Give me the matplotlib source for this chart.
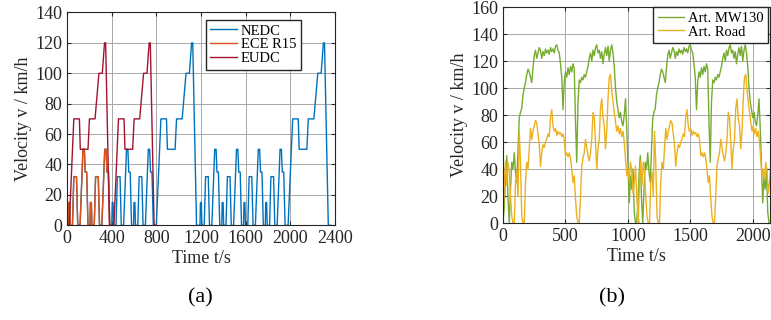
import numpy as np
import matplotlib
matplotlib.use('Agg')
from matplotlib import pyplot as plt

plt.rcParams['font.family'] = ['Liberation Serif', 'DejaVu Serif']

# ECE R15 urban cycle (195 s) breakpoints
ece_t = [0, 11, 15, 23, 28, 49, 61, 85, 96, 117, 143, 155, 163, 176, 188, 195]
ece_v = [0, 0, 15, 15, 0, 0, 32, 32, 0, 0, 50, 50, 35, 35, 0, 0]
# EUDC extra-urban cycle (400 s) breakpoints
eudc_t = [0, 20, 61, 111, 119, 188, 201, 251, 286, 316, 336, 346, 380, 400]
eudc_v = [0, 0, 70, 70, 50, 50, 70, 70, 100, 100, 120, 120, 0, 0]
ece_len = 195
eudc_len = 400

# Artemis cycles, read every 10 s
mw130_period = 1068
mw130_v = [0, 12, 35, 50, 18, 0, 25, 45, 40, 52, 38, 30, 55, 78, 82, 85,
           95, 100, 104, 110, 114, 112, 108, 104, 115, 124, 128, 122, 126,
           130, 128, 122, 127, 124, 129, 126, 128, 125, 130, 127, 129, 126,
           131, 132, 128, 126, 118, 108, 84, 105, 112, 108, 115, 110, 116,
           112, 118, 114, 75, 45, 90, 106, 104, 108, 106, 110, 108, 112, 116,
           122, 126, 120, 128, 124, 130, 132, 126, 128, 122, 127, 118, 125,
           130, 124, 131, 120, 128, 132, 126, 116, 100, 90, 84, 78, 82, 75,
           72, 80, 92, 70, 42, 15, 35, 25, 40, 8, 0]
road_period = 1082
road_v = [0, 30, 46, 28, 45, 38, 20, 5, 0, 0, 30, 38, 20, 68, 45, 5, 0, 0,
          30, 45, 40, 55, 70, 62, 68, 72, 76, 74, 66, 58, 42, 52, 58, 56, 60,
          62, 66, 64, 78, 84, 72, 68, 70, 65, 68, 66, 67, 64, 66, 62, 50, 52,
          49, 52, 48, 40, 30, 35, 18, 5, 0, 0, 20, 42, 48, 52, 62, 56, 50, 46,
          52, 62, 82, 78, 60, 40, 55, 62, 85, 92, 78, 72, 55, 68, 92, 108,
          110, 98, 90, 82, 75, 68, 72, 66, 70, 64, 68, 60, 48, 35, 40, 32, 45,
          38, 22, 30, 42, 20, 5, 0]


def chain(parts):
    # put cycles one after another in time
    ts, vs, start = [], [], 0
    for t, v, length in parts:
        ts.append(np.array(t) + start)
        vs.append(np.array(v))
        start += length
    return np.concatenate(ts), np.concatenate(vs)


ece = (ece_t, ece_v, ece_len)
eudc = (eudc_t, eudc_v, eudc_len)
nedc_t, nedc_v = chain([ece] * 4 + [eudc] + [ece] * 4 + [eudc])
ece2_t, ece2_v = chain([ece] * 2)
eudc2_t, eudc2_v = chain([eudc] * 2)

mw_t0 = np.arange(len(mw130_v)) * 10
mw_t, mw_v = chain([(mw_t0, mw130_v, mw130_period)] * 2)
rd_t0 = np.arange(len(road_v)) * 10
rd_t, rd_v = chain([(rd_t0, road_v, road_period)] * 2)

fig = plt.figure(figsize=(7.71, 3.2), dpi=100)
ax1 = fig.add_axes([0.0869, 0.296, 0.3476, 0.665])
ax2 = fig.add_axes([0.6524, 0.303, 0.3463, 0.675])

ax1.plot(nedc_t, nedc_v, color='#0072BD', lw=1.0, label='NEDC')
ax1.plot(ece2_t, ece2_v, color='#D95319', lw=1.0, label='ECE R15')
ax1.plot(eudc2_t, eudc2_v, color='#A2142F', lw=1.0, label='EUDC')
ax1.set_xlim(0, 2400)
ax1.set_ylim(0, 140)
ax1.set_xticks(range(0, 2401, 400))
ax1.set_yticks(range(0, 141, 20))
ax1.legend(loc='upper left', bbox_to_anchor=(0.519, 0.965), fontsize=10.5,
           fancybox=False, edgecolor='#262626', framealpha=1,
           handlelength=1.8, labelspacing=0.05, borderpad=0.3,
           handletextpad=0.3, borderaxespad=0)

ax2.plot(mw_t, mw_v, color='#77AC30', lw=1.0, label='Art. MW130')
ax2.plot(rd_t, rd_v, color='#EDB120', lw=1.0, label='Art. Road')
ax2.set_xlim(0, 2136)
ax2.set_ylim(0, 160)
ax2.set_xticks(range(0, 2001, 500))
ax2.set_yticks(range(0, 161, 20))
ax2.legend(loc='upper right', bbox_to_anchor=(0.993, 1.0), fontsize=10.5,
           fancybox=False, edgecolor='#262626', framealpha=1,
           handlelength=1.8, labelspacing=0.05, borderpad=0.3,
           handletextpad=0.3, borderaxespad=0)

for ax in (ax1, ax2):
    ax.grid(True, color='#a8a8a8', lw=0.7)
    ax.tick_params(direction='in', top=True, right=True, length=3,
                   labelsize=13, colors='#262626', labelcolor='#262626')
    for sp in ax.spines.values():
        sp.set_color('#262626')
        sp.set_linewidth(0.8)
    ax.set_xlabel('Time t/s', fontsize=13, color='#262626', labelpad=2)
    ax.set_ylabel('Velocity v / km/h', fontsize=13, color='#262626', labelpad=2)

fig.text(200 / 771, 1 - 298 / 320, '(a)', fontsize=16, ha='center', va='center')
fig.text(612 / 771, 1 - 298 / 320, '(b)', fontsize=16, ha='center', va='center')

fig.savefig('out.png', dpi=100)
plt.close()
